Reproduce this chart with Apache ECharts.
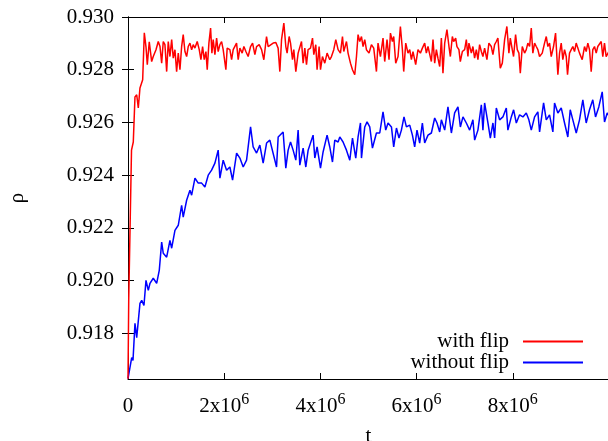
<!DOCTYPE html>
<html><head><meta charset="utf-8">
<script src="https://cdn.jsdelivr.net/npm/echarts@6/dist/echarts.min.js"></script>
<style>html,body{margin:0;padding:0;background:#fff}#c{width:608px;height:441px}</style>
</head><body><div id="c"></div>
<script>
// t in units of 10^6, rho
const withFlip = [[0,0.91628],[0.015,0.91925],[0.042,0.92191],[0.073,0.92495],[0.110,0.92526],[0.145,0.92697],[0.181,0.92705],[0.214,0.92655],[0.249,0.92731],[0.305,0.92762],[0.339,0.92940],[0.374,0.92887],[0.401,0.92819],[0.442,0.92906],[0.492,0.92831],[0.525,0.92850],[0.582,0.92876],[0.629,0.92907],[0.665,0.92888],[0.700,0.92825],[0.733,0.92907],[0.768,0.92895],[0.804,0.92793],[0.837,0.92907],[0.872,0.92850],[0.908,0.92914],[0.941,0.92844],[0.976,0.92876],[1.011,0.92793],[1.045,0.92863],[1.080,0.92800],[1.115,0.92888],[1.148,0.92933],[1.184,0.92869],[1.219,0.92850],[1.252,0.92888],[1.288,0.92901],[1.323,0.92876],[1.356,0.92895],[1.391,0.92882],[1.439,0.92907],[1.481,0.92876],[1.516,0.92838],[1.551,0.92888],[1.585,0.92838],[1.620,0.92869],[1.647,0.92800],[1.682,0.92901],[1.717,0.92958],[1.744,0.92863],[1.771,0.92914],[1.807,0.92857],[1.842,0.92920],[1.875,0.92869],[1.911,0.92895],[1.946,0.92907],[1.979,0.92876],[2.035,0.92800],[2.062,0.92882],[2.118,0.92876],[2.154,0.92838],[2.187,0.92876],[2.222,0.92869],[2.257,0.92901],[2.291,0.92838],[2.326,0.92882],[2.374,0.92863],[2.409,0.92888],[2.451,0.92869],[2.498,0.92850],[2.548,0.92888],[2.590,0.92901],[2.638,0.92857],[2.673,0.92888],[2.727,0.92895],[2.777,0.92876],[2.824,0.92838],[2.880,0.92926],[2.914,0.92888],[2.949,0.92888],[3.018,0.92901],[3.074,0.92903],[3.121,0.92882],[3.157,0.92793],[3.192,0.92914],[3.240,0.92977],[3.281,0.92888],[3.308,0.92863],[3.350,0.92926],[3.379,0.92901],[3.420,0.92838],[3.447,0.92876],[3.489,0.92793],[3.537,0.92863],[3.607,0.92907],[3.641,0.92825],[3.676,0.92882],[3.711,0.92819],[3.744,0.92876],[3.794,0.92882],[3.836,0.92920],[3.863,0.92857],[3.904,0.92895],[3.931,0.92800],[3.973,0.92888],[4.002,0.92800],[4.043,0.92850],[4.091,0.92825],[4.139,0.92863],[4.195,0.92838],[4.230,0.92850],[4.278,0.92876],[4.320,0.92914],[4.368,0.92876],[4.417,0.92863],[4.459,0.92926],[4.486,0.92869],[4.542,0.92907],[4.575,0.92863],[4.625,0.92825],[4.667,0.92800],[4.714,0.92781],[4.750,0.92850],[4.783,0.92933],[4.818,0.92907],[4.854,0.92926],[4.887,0.92888],[4.922,0.92914],[4.957,0.92876],[5.011,0.92863],[5.061,0.92895],[5.109,0.92882],[5.165,0.92793],[5.198,0.92901],[5.248,0.92850],[5.302,0.92920],[5.337,0.92831],[5.385,0.92914],[5.427,0.92838],[5.456,0.92939],[5.497,0.92907],[5.524,0.92926],[5.566,0.92825],[5.614,0.92850],[5.663,0.92964],[5.705,0.92876],[5.732,0.92793],[5.774,0.92901],[5.821,0.92863],[5.857,0.92876],[5.892,0.92838],[5.925,0.92869],[5.981,0.92819],[6.029,0.92876],[6.079,0.92863],[6.120,0.92882],[6.168,0.92901],[6.203,0.92863],[6.237,0.92888],[6.272,0.92888],[6.307,0.92831],[6.341,0.92914],[6.376,0.92825],[6.411,0.92876],[6.444,0.92844],[6.480,0.92812],[6.515,0.92920],[6.548,0.92787],[6.584,0.92901],[6.631,0.92952],[6.673,0.92888],[6.702,0.92850],[6.743,0.92926],[6.770,0.92907],[6.812,0.92920],[6.839,0.92888],[6.880,0.92876],[6.909,0.92831],[6.951,0.92869],[6.999,0.92876],[7.034,0.92914],[7.067,0.92850],[7.088,0.92901],[7.138,0.92863],[7.171,0.92888],[7.206,0.92844],[7.242,0.92876],[7.275,0.92838],[7.310,0.92895],[7.346,0.92869],[7.379,0.92850],[7.414,0.92882],[7.462,0.92838],[7.503,0.92901],[7.553,0.92888],[7.587,0.92857],[7.622,0.92895],[7.657,0.92907],[7.690,0.92920],[7.740,0.92806],[7.782,0.92825],[7.830,0.92914],[7.877,0.92964],[7.919,0.92863],[7.948,0.92920],[7.989,0.92876],[8.016,0.92850],[8.058,0.92933],[8.093,0.92876],[8.127,0.92863],[8.156,0.92787],[8.197,0.92888],[8.245,0.92863],[8.280,0.92876],[8.313,0.92901],[8.349,0.92888],[8.384,0.92958],[8.417,0.92863],[8.453,0.92901],[8.488,0.92888],[8.521,0.92876],[8.556,0.92850],[8.612,0.92863],[8.660,0.92901],[8.696,0.92926],[8.729,0.92888],[8.764,0.92901],[8.799,0.92850],[8.847,0.92888],[8.889,0.92939],[8.937,0.92781],[8.972,0.92863],[9.007,0.92901],[9.040,0.92838],[9.076,0.92876],[9.111,0.92850],[9.138,0.92781],[9.179,0.92863],[9.215,0.92876],[9.248,0.92888],[9.283,0.92869],[9.318,0.92901],[9.352,0.92882],[9.387,0.92863],[9.443,0.92838],[9.491,0.92888],[9.526,0.92869],[9.560,0.92901],[9.595,0.92876],[9.630,0.92793],[9.663,0.92876],[9.699,0.92888],[9.734,0.92863],[9.767,0.92888],[9.802,0.92882],[9.838,0.92907],[9.871,0.92850],[9.906,0.92901],[9.941,0.92850],[9.969,0.92857],[10.0,0.92870]];
const withoutFlip = [[0,0.91628],[0.021,0.91632],[0.077,0.91708],[0.104,0.91697],[0.145,0.91838],[0.181,0.91784],[0.249,0.91914],[0.285,0.91925],[0.332,0.91906],[0.374,0.92001],[0.422,0.91963],[0.457,0.91990],[0.525,0.92009],[0.596,0.91990],[0.650,0.92039],[0.700,0.92146],[0.733,0.92104],[0.804,0.92089],[0.872,0.92153],[0.908,0.92123],[0.976,0.92191],[1.045,0.92210],[1.115,0.92286],[1.148,0.92241],[1.219,0.92305],[1.288,0.92343],[1.323,0.92324],[1.392,0.92389],[1.460,0.92370],[1.531,0.92370],[1.599,0.92355],[1.668,0.92400],[1.738,0.92419],[1.807,0.92446],[1.875,0.92495],[1.911,0.92389],[1.979,0.92457],[2.050,0.92419],[2.118,0.92431],[2.174,0.92381],[2.258,0.92484],[2.326,0.92465],[2.395,0.92431],[2.465,0.92457],[2.548,0.92583],[2.602,0.92507],[2.673,0.92484],[2.741,0.92514],[2.810,0.92446],[2.881,0.92522],[2.949,0.92533],[3.088,0.92431],[3.122,0.92545],[3.225,0.92564],[3.281,0.92427],[3.329,0.92495],[3.379,0.92526],[3.433,0.92495],[3.489,0.92457],[3.537,0.92571],[3.572,0.92438],[3.641,0.92503],[3.697,0.92431],[3.745,0.92495],[3.848,0.92552],[3.884,0.92465],[3.931,0.92507],[4.002,0.92427],[4.056,0.92488],[4.139,0.92552],[4.195,0.92507],[4.251,0.92450],[4.299,0.92533],[4.368,0.92526],[4.403,0.92545],[4.471,0.92526],[4.542,0.92495],[4.611,0.92457],[4.667,0.92541],[4.735,0.92465],[4.783,0.92545],[4.833,0.92598],[4.854,0.92465],[4.922,0.92583],[4.970,0.92602],[5.026,0.92583],[5.082,0.92503],[5.165,0.92560],[5.234,0.92560],[5.302,0.92640],[5.358,0.92571],[5.406,0.92598],[5.477,0.92583],[5.524,0.92507],[5.581,0.92579],[5.634,0.92541],[5.684,0.92571],[5.738,0.92621],[5.788,0.92583],[5.857,0.92590],[5.913,0.92552],[5.960,0.92507],[6.008,0.92571],[6.064,0.92522],[6.120,0.92598],[6.168,0.92522],[6.237,0.92552],[6.307,0.92560],[6.376,0.92617],[6.424,0.92598],[6.480,0.92564],[6.515,0.92610],[6.584,0.92571],[6.652,0.92659],[6.723,0.92560],[6.791,0.92636],[6.860,0.92659],[6.910,0.92583],[6.964,0.92621],[7.034,0.92598],[7.103,0.92571],[7.171,0.92610],[7.207,0.92533],[7.275,0.92571],[7.346,0.92667],[7.379,0.92571],[7.414,0.92674],[7.483,0.92598],[7.533,0.92541],[7.587,0.92598],[7.622,0.92541],[7.657,0.92655],[7.726,0.92610],[7.794,0.92621],[7.865,0.92655],[7.898,0.92571],[7.969,0.92621],[8.017,0.92648],[8.073,0.92598],[8.141,0.92629],[8.210,0.92621],[8.280,0.92636],[8.334,0.92610],[8.384,0.92571],[8.453,0.92621],[8.521,0.92640],[8.557,0.92564],[8.640,0.92674],[8.696,0.92610],[8.764,0.92629],[8.833,0.92564],[8.868,0.92674],[8.937,0.92636],[9.007,0.92655],[9.076,0.92598],[9.144,0.92545],[9.194,0.92648],[9.248,0.92610],[9.319,0.92560],[9.387,0.92610],[9.456,0.92686],[9.526,0.92598],[9.595,0.92648],[9.663,0.92686],[9.720,0.92621],[9.788,0.92659],[9.859,0.92716],[9.907,0.92602],[9.963,0.92636],[10.0,0.92625]];
const seriesNames = ['with flip', 'without flip'];
const seriesColors = ['#ff0000', '#0000ff'];
const yTicks = [0.918, 0.920, 0.922, 0.924, 0.926, 0.928, 0.930];
const xTicks = [0, 2e6, 4e6, 6e6, 8e6];
const yMin = 0.91627, yMax = 0.930;
const xMin = 0, xMax = 1e7, xStep = 2e6;

const FONT = '"Liberation Serif", "Times New Roman", serif';
const toPts = arr => arr.map(p => [p[0] * 1e6, p[1]]);

const chart = echarts.init(document.getElementById('c'), null, {renderer: 'canvas'});
const tickStyle = {show: true, inside: true, length: 6, lineStyle: {color: '#000', width: 1}};
const lineStyle = {show: true, lineStyle: {color: '#000', width: 1}};
chart.setOption({
  animation: false,
  backgroundColor: '#fff',
  grid: {left: 128, top: 17, width: 481, height: 362, containLabel: false, outerBoundsMode: 'none'},
  legend: {
    orient: 'vertical', align: 'right', right: 25, top: 331, padding: 0, itemGap: 0,
    itemWidth: 60, itemHeight: 2, icon: 'rect', data: seriesNames,
    formatter: name => '{a|' + name + '}',
    textStyle: {
      fontFamily: FONT, fontSize: 21, lineHeight: 21, color: '#000',
      rich: {a: {fontFamily: FONT, fontSize: 21, lineHeight: 21, color: '#000', padding: [0, 9, 0, 0]}}
    }
  },
  xAxis: [{
    type: 'value', position: 'bottom', min: xMin, max: xMax, interval: xStep,
    name: 't', nameLocation: 'middle', nameGap: 47,
    nameTextStyle: {fontFamily: FONT, fontSize: 21, color: '#000'},
    axisLine: lineStyle, axisTick: Object.assign({customValues: xTicks}, tickStyle), splitLine: {show: false},
    axisLabel: {
      customValues: xTicks, margin: 13, color: '#000',
      formatter: v => v === 0 ? '{b|0}' : '{b|' + (v / 1e6) + 'x10}{s|6}',
      rich: {
        b: {fontFamily: FONT, fontSize: 21, lineHeight: 28, color: '#000'},
        s: {fontFamily: FONT, fontSize: 16, lineHeight: 16, verticalAlign: 'top', color: '#000'}
      }
    }
  }, {
    type: 'value', position: 'top', min: xMin, max: xMax, interval: xStep,
    axisLine: lineStyle, axisTick: Object.assign({customValues: xTicks}, tickStyle),
    axisLabel: {show: false}, splitLine: {show: false}
  }],
  yAxis: [{
    type: 'value', position: 'left', min: yMin, max: yMax,
    name: 'ρ', nameLocation: 'middle', nameGap: 100, nameRotate: 90,
    nameTextStyle: {fontFamily: FONT, fontSize: 21, color: '#000'},
    axisLine: lineStyle, axisTick: Object.assign({customValues: yTicks}, tickStyle), splitLine: {show: false},
    axisLabel: {customValues: yTicks, margin: 14, fontFamily: FONT, fontSize: 21, color: '#000',
      formatter: v => v.toFixed(3)}
  }, {
    type: 'value', position: 'right', min: yMin, max: yMax,
    axisLine: lineStyle, axisTick: Object.assign({customValues: yTicks}, tickStyle),
    axisLabel: {show: false}, splitLine: {show: false}
  }],
  series: [{
    name: seriesNames[1], type: 'line', data: toPts(withoutFlip), showSymbol: false, symbol: 'none',
    color: seriesColors[1], lineStyle: {color: seriesColors[1], width: 1.5}, z: 2
  }, {
    name: seriesNames[0], type: 'line', data: toPts(withFlip), showSymbol: false, symbol: 'none',
    color: seriesColors[0], lineStyle: {color: seriesColors[0], width: 1.5}, z: 3
  }]
});
</script>
</body></html>
